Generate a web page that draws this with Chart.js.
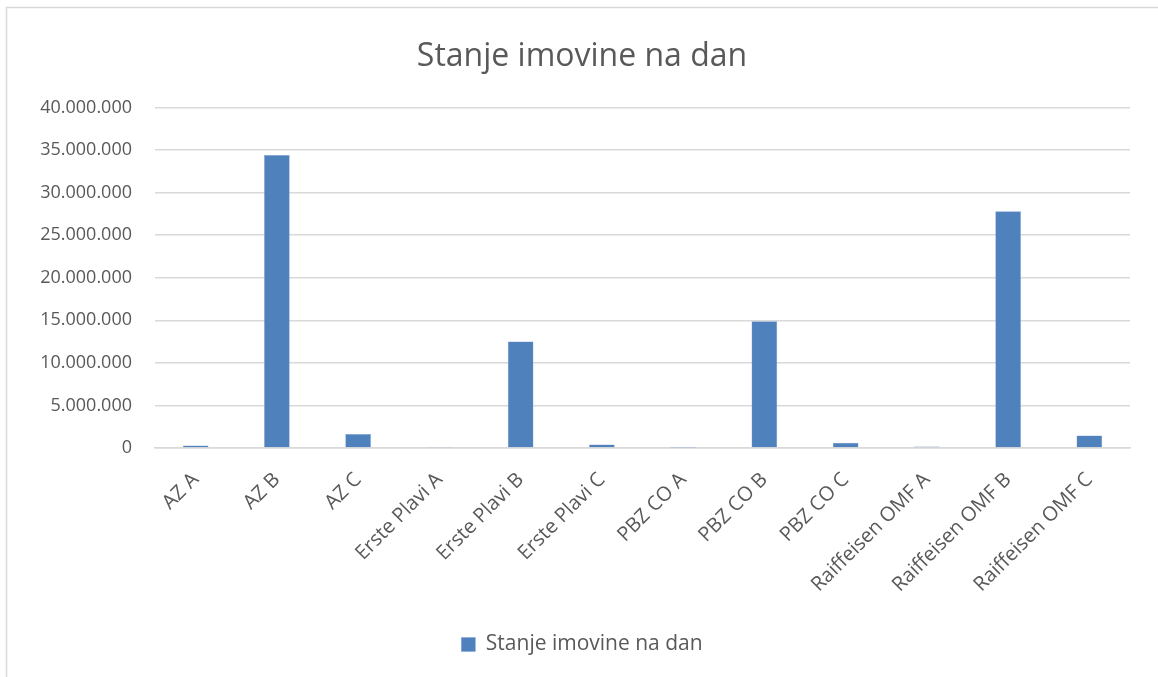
<!DOCTYPE html>
<html>
<head>
<meta charset="utf-8">
<script src="https://cdn.jsdelivr.net/npm/chart.js"></script>
<style>
  html, body { margin: 0; padding: 0; background: #fff; }
  #wrap { width: 1158px; height: 677px; }
</style>
</head>
<body>
<div id="wrap"><canvas id="imovina"></canvas></div>
<script>
// categories and values
const fundNames = [
    'AZ A', 'AZ B', 'AZ C',
    'Erste Plavi A', 'Erste Plavi B', 'Erste Plavi C',
    'PBZ CO A', 'PBZ CO B', 'PBZ CO C',
    'Raiffeisen OMF A', 'Raiffeisen OMF B', 'Raiffeisen OMF C'
];
const stanjeImovine = [
    280000, 34400000, 1650000,
    50000, 12500000, 420000,
    30000, 14900000, 610000,
    180000, 27800000, 1470000
];
const seriesLabel = 'Stanje imovine na dan';
const yMax = 40000000;
const yStep = 5000000;

const textColor = '#595959';
const fontFamily = "'Open Sans', 'Noto Sans', sans-serif";

// thousands separated with dots, like the original
const fmt = (v) => Math.round(v).toString().replace(/\B(?=(\d{3})+(?!\d))/g, '.');

// light frame around the chart
const framePlugin = {
    id: 'frame',
    beforeDraw: (chart) => {
        const c = chart.ctx;
        c.save();
        c.strokeStyle = '#d9d9d9';
        c.lineWidth = 1.5;
        c.strokeRect(6.5, 7.5, chart.width + 10, chart.height + 10);
        c.restore();
    }
};

const ctx = document.getElementById('imovina').getContext('2d');
const chart = new Chart(ctx, {
    type: 'bar',
    data: {
        labels: fundNames,
        datasets: [{
            label: seriesLabel,
            data: stanjeImovine,
            backgroundColor: '#4f81bd',
            borderColor: '#7fa3d3',
            borderWidth: 0.5,
            barPercentage: 0.316,
            categoryPercentage: 1
        }]
    },
    options: {
        responsive: true,
        maintainAspectRatio: false,
        animation: false,
        layout: { padding: { top: 8, right: 28, bottom: 12, left: 34 } },
        plugins: {
            title: {
                display: true,
                text: seriesLabel,
                color: textColor,
                font: { family: fontFamily, size: 32, weight: 'normal' },
                padding: { top: 30, bottom: 31 }
            },
            legend: {
                position: 'bottom',
                labels: {
                    color: textColor,
                    font: { family: fontFamily, size: 21 },
                    boxWidth: 14,
                    boxHeight: 14,
                    padding: 10
                }
            },
            tooltip: { enabled: false }
        },
        scales: {
            x: {
                grid: { display: false },
                border: { color: '#d9d9d9', width: 1.5 },
                ticks: {
                    color: textColor,
                    font: { family: fontFamily, size: 20 },
                    maxRotation: 45,
                    minRotation: 45,
                    autoSkip: false,
                    padding: 12
                },
                afterFit: (scale) => { scale.height = 176; }
            },
            y: {
                min: 0,
                max: yMax,
                grid: { color: '#d9d9d9', lineWidth: 1.5, drawTicks: false },
                border: { display: false },
                ticks: {
                    stepSize: yStep,
                    color: textColor,
                    font: { family: fontFamily, size: 18 },
                    padding: 23,
                    callback: (value) => fmt(value)
                },
                afterFit: (scale) => { scale.width = 121; }
            }
        }
    },
    plugins: [framePlugin]
});
</script>
</body>
</html>
